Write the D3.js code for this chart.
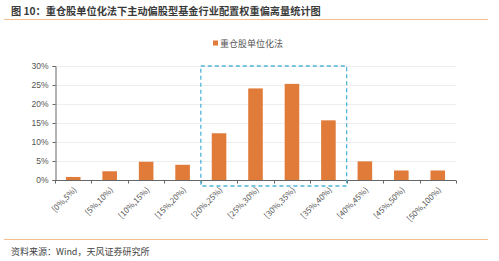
<!DOCTYPE html>
<html>
<head>
<meta charset="utf-8">
<script src="https://cdn.jsdelivr.net/npm/d3@7"></script>
<style>
  body { margin: 0; background: #fff; }
  text { font-family: "Noto Sans CJK SC", "Noto Sans", sans-serif; }
</style>
</head>
<body>
<div id="root"></div>
<script>
const categories = ["[0%,5%)", "[5%,10%)", "[10%,15%)", "[15%,20%)", "[20%,25%)", "[25%,30%)",
    "[30%,35%)", "[35%,40%)", "[40%,45%)", "[45%,50%)", "[50%,100%)"];
const values = [0.8, 2.3, 4.8, 4.0, 12.3, 24.1, 25.3, 15.7, 4.9, 2.5, 2.5];
const yTicks = [0, 5, 10, 15, 20, 25, 30];
const seriesName = "重仓股单位化法";
const highlight = ["[20%,25%)", "[35%,40%)"];

const w = 499, h = 261;
const plotLeft = 55, plotRight = 456, plotTop = 66, plotBottom = 180;
const orange = "#E07B39";

const svg = d3.select("#root").append("svg")
    .attr("width", w)
    .attr("height", h);

// title and rules
svg.append("text")
    .attr("x", 11).attr("y", 15)
    .attr("font-size", "10.2px")
    .attr("font-weight", "bold")
    .attr("fill", "#3a3a3a")
    .text("图 10：重仓股单位化法下主动偏股型基金行业配置权重偏离量统计图");

svg.append("line")
    .attr("x1", 4).attr("x2", 488).attr("y1", 19.5).attr("y2", 19.5)
    .attr("stroke", "#F2BE8C").attr("stroke-width", 1);

svg.append("line")
    .attr("x1", 4).attr("x2", 488).attr("y1", 239.5).attr("y2", 239.5)
    .attr("stroke", "#F2BE8C").attr("stroke-width", 1);

svg.append("text")
    .attr("x", 11).attr("y", 255)
    .attr("font-size", "9px")
    .attr("fill", "#444")
    .text("资料来源：Wind，天风证券研究所");

// legend
svg.append("rect")
    .attr("x", 213).attr("y", 40.5).attr("width", 5).attr("height", 5)
    .attr("fill", orange);
svg.append("text")
    .attr("x", 220).attr("y", 46.5)
    .attr("font-size", "9px")
    .attr("fill", "#555")
    .text(seriesName);

const x = d3.scaleBand().domain(categories).range([plotLeft, plotRight]).paddingInner(0.6).paddingOuter(0.3);
const y = d3.scaleLinear().domain([0, 30]).range([plotBottom, plotTop]);

// grid
svg.append("g").selectAll("line")
    .data(yTicks.slice(1))
    .enter().append("line")
    .attr("x1", plotLeft).attr("x2", plotRight)
    .attr("y1", d => Math.round(y(d)) + 0.5).attr("y2", d => Math.round(y(d)) + 0.5)
    .attr("stroke", "#eeeeee");

// bars
svg.append("g").selectAll("rect")
    .data(values)
    .enter().append("rect")
    .attr("x", (d, i) => x(categories[i]))
    .attr("width", x.bandwidth())
    .attr("y", d => y(d))
    .attr("height", d => y(0) - y(d))
    .attr("fill", orange);

// y axis
const yAxis = svg.append("g")
    .attr("transform", `translate(${plotLeft + 0.5},0)`)
    .call(d3.axisLeft(y).tickValues(yTicks).tickFormat(d => d + "%").tickSize(3).tickPadding(4));
yAxis.select(".domain").attr("stroke", "#666");
yAxis.selectAll(".tick line").attr("stroke", "#666");
yAxis.selectAll("text").attr("font-size", "8.5px").attr("fill", "#555")
    .style("font-family", "'Liberation Sans', Arial, sans-serif");

// x axis
const xAxisG = svg.append("g")
    .attr("transform", `translate(0,${plotBottom + 0.5})`);
xAxisG.append("line")
    .attr("x1", plotLeft).attr("x2", plotRight)
    .attr("stroke", "#666");
const edges = d3.range(categories.length + 1).map(i => plotLeft + i * (plotRight - plotLeft) / categories.length);
xAxisG.selectAll(".tk")
    .data(edges)
    .enter().append("line")
    .attr("x1", d => Math.round(d) + 0.5).attr("x2", d => Math.round(d) + 0.5)
    .attr("y1", 0).attr("y2", 3)
    .attr("stroke", "#666");
xAxisG.selectAll("text")
    .data(categories)
    .enter().append("text")
    .attr("transform", d => `translate(${x(d) + x.bandwidth() / 2 + 4},${10}) rotate(-45)`)
    .attr("text-anchor", "end")
    .attr("font-size", "8px")
    .attr("fill", "#555")
    .text(d => d);

// dashed highlight box
const bx0 = edges[categories.indexOf(highlight[0])];
const bx1 = edges[categories.indexOf(highlight[1]) + 1];
svg.append("rect")
    .attr("x", bx0).attr("y", y(30))
    .attr("width", bx1 - bx0).attr("height", plotBottom + 6 - y(30))
    .attr("fill", "none")
    .attr("stroke", "#4DB6D6")
    .attr("stroke-width", 1.3)
    .attr("stroke-dasharray", "4,3");
</script>
</body>
</html>
